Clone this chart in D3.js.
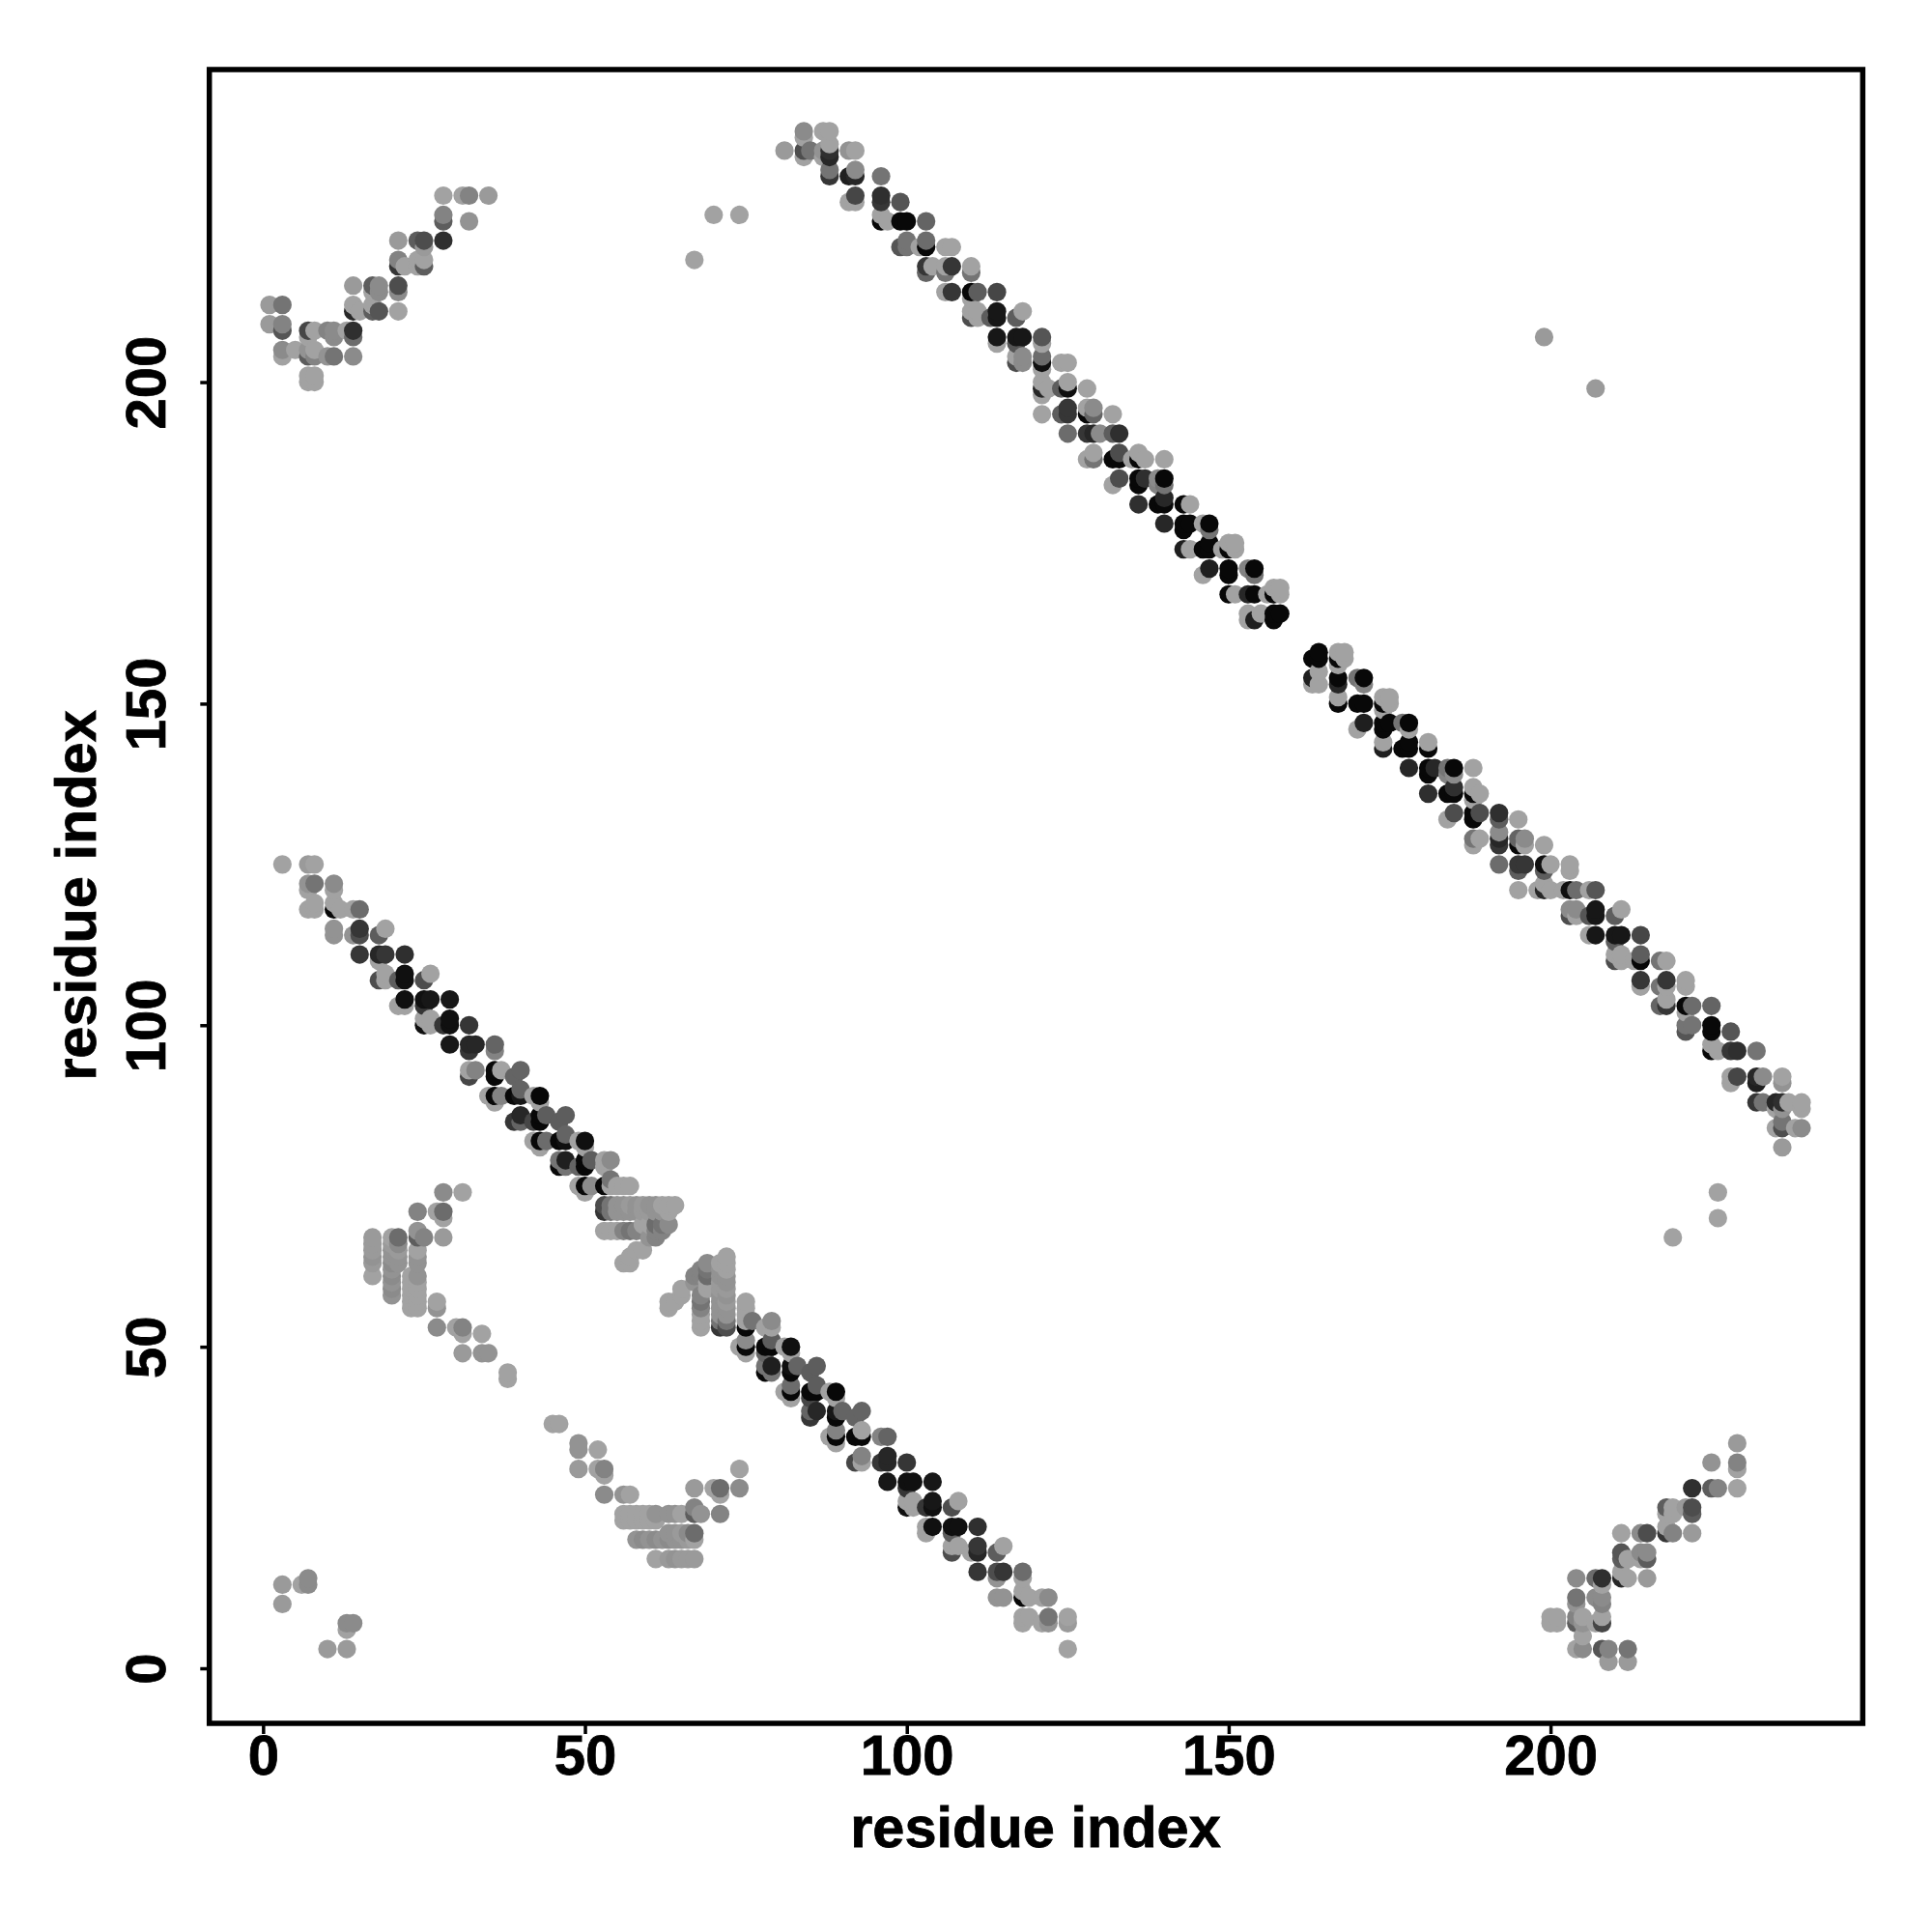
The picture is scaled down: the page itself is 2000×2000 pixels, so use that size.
<!DOCTYPE html>
<html><head><meta charset="utf-8">
<script src="https://cdn.jsdelivr.net/npm/d3@7"></script>
<style>html,body{margin:0;padding:0;background:#fff}</style></head>
<body><div id="chart"></div>
<script>
// contacts as [residue i, residue j, strength 0..1]; the map is symmetric, only i<j is listed
const strandLower = [
[3,125,0],[7,125,.05],[8,125,0],[7,122,.1],[8,122,.3],[11,122,.15],[7,121,0],[11,121,0],[8,119,0],
[7,118,0],[8,118,0],[11,118,1],[11,119,0],[12,118,0],[14,118,0],[15,118,.35],
[11,115,.1],[11,114,.1],[15,115,.7],[15,114,.55],[14,114,.1],[18,114,.45],[19,115,0],
[15,111,.7],[18,111,.8],[19,111,.7],[22,111,.75],[18,110,0],
[18,107,.55],[19,107,0],[19,108,0],[21,107,.45],[22,108,.95],[22,107,.95],[25,107,.55],[26,108,0],
[22,104,.95],[21,103,0],[22,103,0],[25,104,.95],[26,104,.9],[25,103,.7],[29,104,.9],
[25,100,.95],[25,101,0],[26,101,0],[26,100,0],[28,100,.7],[29,101,.95],[29,100,.95],[32,100,.7],
[29,97,.9],[32,97,.8],[33,97,.8],[32,96,.7],[36,97,.4],[36,96,.2],
[32,93,0],[32,92,.6],[33,93,.2],[36,93,1],[36,92,1],[37,93,0],[39,92,.4],[40,93,.4],
[35,89,0],[36,89,1],[36,88,0],[37,89,.2],[39,89,1],[40,90,.4],[40,89,.9],[42,89,0],[43,89,1],[43,88,0],
[39,85,.7],[40,86,.8],[40,85,.4],[42,85,.6],[43,86,1],[43,85,1],[44,86,.45],[46,85,.45],[47,86,.45],
[42,82,0],[43,82,1],[43,81,0],[44,82,.35],[46,82,1],[47,83,.4],[47,82,.95],[49,82,0],[50,82,.95],[50,81,0],
[46,78,1],[46,79,.3],[47,79,.85],[47,78,.3],[49,78,.4],[50,79,1],[50,78,1],[51,79,.45],[53,79,0],[54,79,.15],[53,78,0],
[49,75,0],[50,75,1],[50,74,0],[51,75,.15],[53,75,1],[54,76,.3],[54,75,0],[55,75,0],[56,75,0],[57,75,0],
[53,72,.55],[53,71,.7],[54,72,.3],[54,71,.3],[55,72,.1],[55,71,.1],[56,72,.1],[56,71,.1],[57,72,.05],[57,71,.1],[58,72,.1],[58,71,.1],
[59,72,.05],[59,71,.05],[60,72,.1],[60,71,.05],[61,72,.1],[61,71,.1],[62,72,0],[62,71,.1],[63,72,0],[63,71,0],[64,72,0],
[53,68,0],[54,68,0],[55,68,0],[56,68,.2],[57,68,.3],[58,68,.2],[59,69,0],[60,69,0],[61,69,.35],[62,69,.3],[63,69,.15],[61,68,.2],[62,68,.2],
[60,67,.1],[61,67,.2],[56,63,0],[57,63,0],[57,64,0],[58,65,0],[59,65,0]
];
const strandUpper = [
[81,236,.05],[84,239,.15],[84,238,0],[84,236,.55],[84,235,0],[85,236,.3],
[87,239,0],[88,239,0],[88,237,0],[88,236,.75],[87,236,.1],[88,235,.8],[87,235,0],[88,233,.3],[88,232,.7],
[91,236,.1],[92,236,0],[92,233,.15],[91,232,.85],[92,232,.8],[92,229,.6],[91,228,0],[92,228,0],
[96,232,.3],[96,229,.75],[96,228,.7],[96,226,0],[96,225,1],[97,225,0],
[99,228,.5],[99,225,1],[100,225,1],[103,225,.4],
[99,221,.5],[100,222,.3],[100,221,.3],[102,221,0],[103,222,.35],[103,221,1],[106,221,0],[107,221,0],
[103,218,.7],[103,217,.4],[104,218,0],[106,218,0],[106,217,.3],[107,218,.7],[110,218,0],[110,217,.3],
[106,214,0],[107,214,.7],[110,214,1],[111,214,.45],[114,214,.6],[110,213,0],
[110,210,.55],[110,211,0],[111,211,0],[111,210,0],[113,210,.45],[114,211,.9],[114,210,.9],[117,210,.45],[118,211,0],
[114,207,.9],[114,206,0],[117,207,.9],[118,207,.9],[117,206,.5],[121,207,.5],[121,206,0],
[117,204,0],[117,203,.55],[118,204,.15],[118,203,.15],[121,204,.35],[121,203,.95],[121,202,0],[124,203,0],[125,203,0],
[121,200,0],[121,199,.8],[121,198,0],[122,199,0],[124,199,.45],[125,200,0],[125,199,.95],[128,199,0],
[121,195,0],[124,195,.45],[125,196,.7],[125,195,.7],[128,196,0],[128,195,1],[129,196,.15],[129,195,.4],[132,195,0],
[125,192,.35],[128,192,.7],[129,192,.8],[130,192,.15],[132,192,.45],[133,192,.75],
[128,188,0],[129,189,0],[129,188,.3],[132,188,1],[133,189,.55],[133,188,1],[135,188,0],[136,189,0],[136,188,1],[137,188,0],[140,188,0],
[132,184,0],[133,185,.55],[136,185,1],[136,184,1],[137,185,.75],[139,185,.15],[139,184,.2],[140,185,1],[140,184,.3],
[136,181,.75],[139,181,1],[140,182,.8],[140,181,1],[143,181,1],[144,181,0],
[140,178,.8],[143,178,1],[143,177,1],[144,178,1],[146,178,0],[147,178,1],[147,177,.3],
[143,174,.85],[144,174,0],[146,174,1],[147,175,1],[147,174,1],[149,174,0],[150,175,0],[150,174,1],[151,175,0],[151,174,0],
[147,171,.85],[146,170,0],[150,171,1],[150,170,1],[153,171,.2],[154,171,1],[154,170,.3],
[150,167,1],[151,167,0],[153,167,.8],[154,167,1],[156,167,0],[157,167,1],[158,168,0],[158,167,0],[157,168,0],
[153,164,0],[153,163,0],[154,163,.85],[155,164,0],[157,164,1],[157,163,1],[158,164,1]
];
const clusterFar = [
[28,229,0],[31,229,0],[32,229,.2],[35,229,.05],[28,226,.2],[28,225,.45],[32,225,.1],[28,222,.75],
[21,222,.05],[24,222,.45],[25,222,.55],[25,221,.05],
[21,219,.2],[21,218,.7],[22,218,0],[24,219,0],[24,218,0],[25,219,0],[25,218,.45],
[14,215,.05],[17,215,.45],[18,215,.15],[18,214,.15],[17,214,0],[21,215,.55],[21,214,.15],
[14,212,0],[14,211,.8],[15,211,0],[17,211,.45],[17,212,0],[18,211,.5],[21,211,0],
[1,212,.05],[3,212,.3],[1,209,.05],[3,209,.2],[3,208,.5],
[7,208,.6],[8,208,0],[7,207,0],[10,208,.2],[11,208,.15],[11,207,.15],[13,208,0],[14,208,.75],[14,207,.35],
[3,205,.15],[3,204,0],[5,205,0],[7,204,.45],[8,205,0],[8,204,.2],[7,205,.1],[10,204,.1],[11,204,.3],[14,204,.15],
[7,201,0],[8,201,0],[7,200,0],[8,200,0]
];
const clusterNear = [
[28,74,.15],[31,74,0],[24,71,.2],[27,71,0],[28,71,.35],[28,70,0],[28,67,.05],
[17,67,.05],[17,66,.05],[17,65,.05],[17,64,.1],[17,63,.05],[17,61,0],
[20,67,0],[21,67,.35],[20,66,.05],[21,66,.15],[20,65,.1],[21,65,.05],[20,64,.1],[21,64,.1],[20,63,.15],[21,63,.1],
[20,62,.1],[20,61,.15],[20,60,.1],[20,59,.15],[20,58,.1],
[24,68,.1],[24,67,.45],[25,67,.2],[24,65,0],[24,64,.1],[24,63,.1],[24,61,.1],
[23,61,0],[23,60,0],[23,59,0],[23,58,0],[23,57,0],[23,56,0],[24,60,0],[24,59,0],[24,58,0],[24,57,0],[24,56,0],
[27,57,0],[27,56,.1],[27,53,.15],[30,53,0],[31,53,.2],[31,52,0],[34,52,0],[31,49,.05],[34,49,.1],[35,49,.1],[38,46,0],[38,45,0]
];
const clusterTerminal = [[3,13,.05],[3,10,.05],[6,13,0],[7,14,.15],[7,13,.15]];
const contactsOther = [[67,219,0],[70,226,0],[74,226,0],[199,207,.05]];

const xTicks = [0,50,100,150,200];
const yTicks = [0,50,100,150,200];
const axisLabel = "residue index";

const half = [...strandLower,...strandUpper,...clusterFar,...clusterNear,...clusterTerminal,...contactsOther];
const contacts = half.flatMap(([i,j,s]) => [[i,j,s],[j,i,s]])
  .sort((a,b) => d3.ascending(a[0],b[0]) || d3.ascending(a[1],b[1]));

const W=2000,H=2000;
const L=216.7,R=1928.3,T=72,B=1784;
const svg=d3.select("#chart").append("svg").attr("width",W).attr("height",H).style("display","block");
svg.append("rect").attr("width",W).attr("height",H).attr("fill","#fff");

const x=d3.scaleLinear().domain([-8.35,248.5]).range([L,R]);
const y=d3.scaleLinear().domain([-8.56,248.6]).range([B,T]);
const shade=d3.scaleLinear().domain([0,1]).range(["#a2a2a2","#080808"]);

svg.append("g").selectAll("circle").data(contacts).join("circle")
  .attr("cx",d=>x(d[0])).attr("cy",d=>y(d[1])).attr("r",9.6).attr("fill",d=>shade(d[2]));

const font='"Liberation Sans",Arial,sans-serif';
const gx=svg.append("g").attr("transform",`translate(0,${B})`)
  .call(d3.axisBottom(x).tickValues(xTicks).tickSize(11).tickPadding(1).tickFormat(d3.format("d")));
const gy=svg.append("g").attr("transform",`translate(${L},0)`)
  .call(d3.axisLeft(y).tickValues(yTicks).tickSize(9.4).tickPadding(0).tickFormat(d3.format("d")));
[gx,gy].forEach(g=>{
  g.select(".domain").remove();
  g.selectAll("line").attr("stroke","#000").attr("stroke-width",3.5);
  g.selectAll("text").attr("font-family",font).attr("font-weight","bold").attr("font-size",58)
    .attr("fill","#000").attr("stroke","#000").attr("stroke-width",0.8);
});
gy.selectAll("text").attr("text-anchor","middle").attr("dy",0)
  .attr("x",0).attr("y",0)
  .attr("transform",`translate(${171-L},0) rotate(-90)`);

svg.append("rect").attr("x",L).attr("y",T).attr("width",R-L).attr("height",B-T)
  .attr("fill","none").attr("stroke","#000").attr("stroke-width",5.5);

svg.append("text").attr("x",1072).attr("y",1912).attr("text-anchor","middle")
  .attr("font-family",font).attr("font-weight","bold").attr("font-size",59.5)
  .attr("stroke","#000").attr("stroke-width",0.8).text(axisLabel);
svg.append("text").attr("transform","translate(99,927) rotate(-90)").attr("text-anchor","middle")
  .attr("font-family",font).attr("font-weight","bold").attr("font-size",59.5)
  .attr("stroke","#000").attr("stroke-width",0.8).text(axisLabel);
</script></body></html>
